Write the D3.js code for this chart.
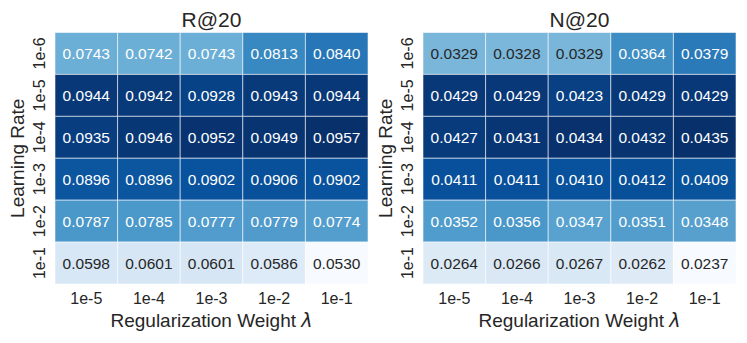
<!DOCTYPE html>
<html>
<head>
<meta charset="utf-8">
<script src="https://cdn.jsdelivr.net/npm/d3@7"></script>
<style>
  body { margin: 0; background: #fff; }
  text { font-family: "Liberation Sans", Arial, sans-serif; fill: #262626; }
</style>
</head>
<body>
<div id="chart"></div>
<script>
// tick labels
var regWeights = ["1e-5", "1e-4", "1e-3", "1e-2", "1e-1"];
var learningRates = ["1e-6", "1e-5", "1e-4", "1e-3", "1e-2", "1e-1"];

// R@20, rows = learning rate, cols = reg weight
var recall = [
  [0.0743, 0.0742, 0.0743, 0.0813, 0.0840],
  [0.0944, 0.0942, 0.0928, 0.0943, 0.0944],
  [0.0935, 0.0946, 0.0952, 0.0949, 0.0957],
  [0.0896, 0.0896, 0.0902, 0.0906, 0.0902],
  [0.0787, 0.0785, 0.0777, 0.0779, 0.0774],
  [0.0598, 0.0601, 0.0601, 0.0586, 0.0530]
];

// N@20
var ndcg = [
  [0.0329, 0.0328, 0.0329, 0.0364, 0.0379],
  [0.0429, 0.0429, 0.0423, 0.0429, 0.0429],
  [0.0427, 0.0431, 0.0434, 0.0432, 0.0435],
  [0.0411, 0.0411, 0.0410, 0.0412, 0.0409],
  [0.0352, 0.0356, 0.0347, 0.0351, 0.0348],
  [0.0264, 0.0266, 0.0267, 0.0262, 0.0237]
];

var panels = [
  {title: "R@20", data: recall, left: 55},
  {title: "N@20", data: ndcg, left: 423}
];

var W = 747, H = 343;
var gridTop = 32.5, gridBottom = 284, cellW = 62.6;

var svg = d3.select("#chart").append("svg")
  .attr("width", W).attr("height", H);

function luminance(c) {
  var rgb = d3.rgb(c);
  var ch = [rgb.r, rgb.g, rgb.b].map(function(v) {
    v = v / 255;
    return v <= 0.03928 ? v / 12.92 : Math.pow((v + 0.055) / 1.055, 2.4);
  });
  return 0.2126 * ch[0] + 0.7152 * ch[1] + 0.0722 * ch[2];
}

panels.forEach(function(p) {
  var flat = d3.merge(p.data);
  var ext = d3.extent(flat);
  var blues = d3.schemeBlues[9];
  var color = d3.scaleLinear()
    .domain(blues.map(function(d, i) { return ext[0] + (ext[1] - ext[0]) * i / 8; }))
    .range(blues)
    .interpolate(d3.interpolateRgb);

  var x = d3.scaleBand().domain(regWeights).range([p.left, p.left + cellW * 5]);
  var y = d3.scaleBand().domain(learningRates).range([gridTop, gridBottom]);

  var g = svg.append("g");

  var cells = [];
  p.data.forEach(function(row, i) {
    row.forEach(function(v, j) {
      cells.push({r: learningRates[i], c: regWeights[j], v: v});
    });
  });

  g.selectAll("rect").data(cells).enter().append("rect")
    .attr("x", function(d) { return x(d.c); })
    .attr("y", function(d) { return y(d.r); })
    .attr("width", x.bandwidth())
    .attr("height", y.bandwidth())
    .attr("fill", function(d) { return color(d.v); })
    .attr("stroke", "rgba(255,255,255,0.55)")
    .attr("stroke-width", 1);

  g.selectAll("text.val").data(cells).enter().append("text")
    .attr("class", "val")
    .attr("x", function(d) { return x(d.c) + x.bandwidth() / 2; })
    .attr("y", function(d) { return y(d.r) + y.bandwidth() / 2; })
    .attr("dy", "0.36em")
    .attr("text-anchor", "middle")
    .style("font-size", "15.5px")
    .style("fill", function(d) { return luminance(color(d.v)) > 0.408 ? "#262626" : "#ffffff"; })
    .text(function(d) { return d.v.toFixed(4); });

  // title
  g.append("text")
    .attr("x", p.left + cellW * 2.5).attr("y", 27)
    .attr("text-anchor", "middle")
    .style("font-size", "21px")
    .text(p.title);

  // x ticks
  g.selectAll("text.xt").data(regWeights).enter().append("text")
    .attr("class", "xt")
    .attr("x", function(d) { return x(d) + x.bandwidth() / 2; })
    .attr("y", 298).attr("dy", "0.35em")
    .attr("text-anchor", "middle")
    .style("font-size", "16px")
    .text(function(d) { return d; });

  var xl = g.append("text")
    .attr("x", p.left + cellW * 2.5).attr("y", 320).attr("dy", "0.35em")
    .attr("text-anchor", "middle")
    .style("font-size", "19px");
  xl.append("tspan").text("Regularization Weight ");
  xl.append("tspan")
    .style("font-family", "'DejaVu Sans', sans-serif")
    .style("font-style", "italic")
    .text("\u03bb");

  // y ticks
  g.selectAll("text.yt").data(learningRates).enter().append("text")
    .attr("class", "yt")
    .attr("transform", function(d) {
      return "translate(" + (p.left - 16) + "," + (y(d) + y.bandwidth() / 2) + ") rotate(-90)";
    })
    .attr("dy", "0.35em")
    .attr("text-anchor", "middle")
    .style("font-size", "16px")
    .text(function(d) { return d; });

  g.append("text")
    .attr("transform", "translate(" + (p.left - 38) + "," + ((gridTop + gridBottom) / 2) + ") rotate(-90)")
    .attr("dy", "0.35em")
    .attr("text-anchor", "middle")
    .style("font-size", "19px")
    .text("Learning Rate");
});
</script>
</body>
</html>
